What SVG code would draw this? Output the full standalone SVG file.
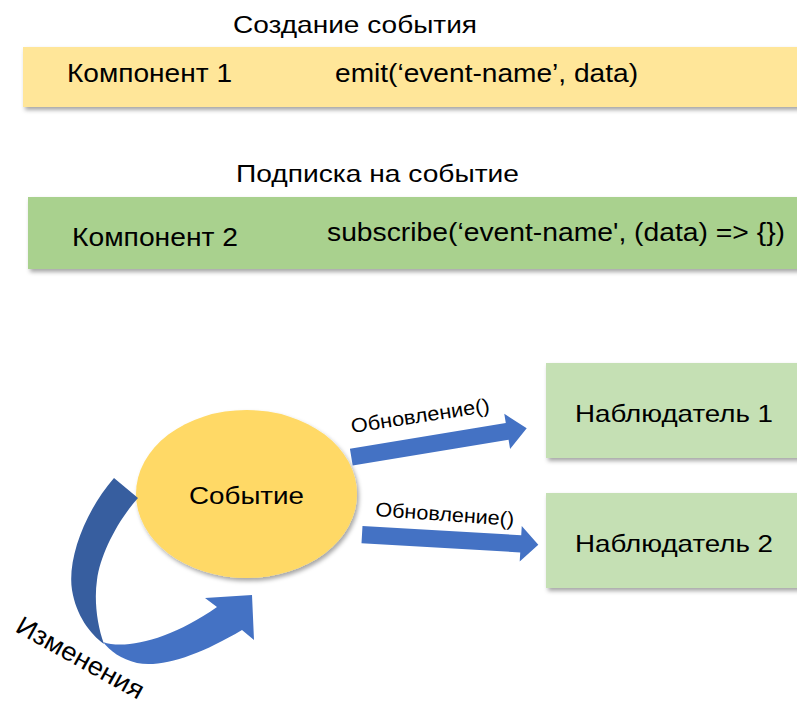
<svg xmlns="http://www.w3.org/2000/svg" width="797" height="703" viewBox="0 0 797 703">
<defs>
  <filter id="sh" x="-10%" y="-10%" width="130%" height="140%">
    <feDropShadow dx="2" dy="3" stdDeviation="2" flood-color="#000" flood-opacity="0.35"/>
  </filter>
  <style>
    text { font-family: "Liberation Sans", Arial, sans-serif; fill: #000; }
    .t { font-size: 24px; }
    .lbl { font-size: 26px; }
    .upd { font-size: 20px; }
    .blue { fill: #4472C4; }
    .dark { fill: #375E9F; }
  </style>
</defs>
<rect width="797" height="703" fill="#fff"/>

<g id="title1"><text class="t" x="233" y="33" textLength="244" lengthAdjust="spacingAndGlyphs">Создание события</text></g>
<g id="component1">
  <rect x="23" y="47" width="790" height="60" fill="#FFE699" filter="url(#sh)"/>
  <text class="lbl" x="67" y="82" textLength="165" lengthAdjust="spacingAndGlyphs">Компонент 1</text>
  <text class="lbl" x="335" y="82" textLength="303" lengthAdjust="spacingAndGlyphs">emit(‘event-name’, data)</text>
</g>

<g id="title2"><text class="t" x="236" y="182" textLength="283" lengthAdjust="spacingAndGlyphs">Подписка на событие</text></g>
<g id="component2">
  <rect x="28" y="197" width="790" height="72" fill="#A9D18E" filter="url(#sh)"/>
  <text class="lbl" x="72" y="246" textLength="166" lengthAdjust="spacingAndGlyphs">Компонент 2</text>
  <text class="lbl" x="327" y="241" textLength="458" lengthAdjust="spacingAndGlyphs">subscribe(‘event-name', (data) =&gt; {})</text>
</g>

<g id="event">
  <ellipse cx="246.5" cy="494" rx="110.5" ry="84" fill="#FFD966" filter="url(#sh)"/>
  <text class="t" x="189" y="504" textLength="115" lengthAdjust="spacingAndGlyphs">Событие</text>
</g>

<g id="observer1">
  <rect x="546" y="363" width="260" height="95" fill="#C5E0B4" filter="url(#sh)"/>
  <text class="t" x="575" y="422" textLength="198" lengthAdjust="spacingAndGlyphs">Наблюдатель 1</text>
</g>
<g id="observer2">
  <rect x="546" y="493" width="260" height="95" fill="#C5E0B4" filter="url(#sh)"/>
  <text class="t" x="575" y="552" textLength="198" lengthAdjust="spacingAndGlyphs">Наблюдатель 2</text>
</g>

<g id="connectors">
  <path class="dark" d="M114,478 C86,510 67,558 72,590 C76,615 90,634 104,644 C97,625 94,600 97,580 C100,555 118,520 138,498 Z"/>
  <path class="blue" d="M103,642 C125,650 170,640 217,607 L205,598 L252,595 L254,640 L242,630 C200,655 162,668 137,663 C121,659 110,651 103,642 Z"/>
  <path class="blue" transform="translate(351.3,457.2) rotate(-9.4)" d="M0,-8.5 L158,-8.5 L158,-17.8 L177.8,0 L158,17.8 L158,8.5 L0,8.5 Z"/>
  <path class="blue" transform="translate(362,534.7) rotate(3.3)" d="M0,-8.6 L159,-8.6 L159,-17.8 L176.6,0 L159,17.8 L159,8.6 L0,8.6 Z"/>
  <text class="upd" transform="translate(352,433) rotate(-8.7)" textLength="140" lengthAdjust="spacingAndGlyphs">Обновление()</text>
  <text class="upd" transform="translate(375,516) rotate(4.1)" textLength="139" lengthAdjust="spacingAndGlyphs">Обновление()</text>
  <text transform="translate(14,631) rotate(29)" font-size="26" textLength="142" lengthAdjust="spacingAndGlyphs">Изменения</text>
</g>
</svg>
